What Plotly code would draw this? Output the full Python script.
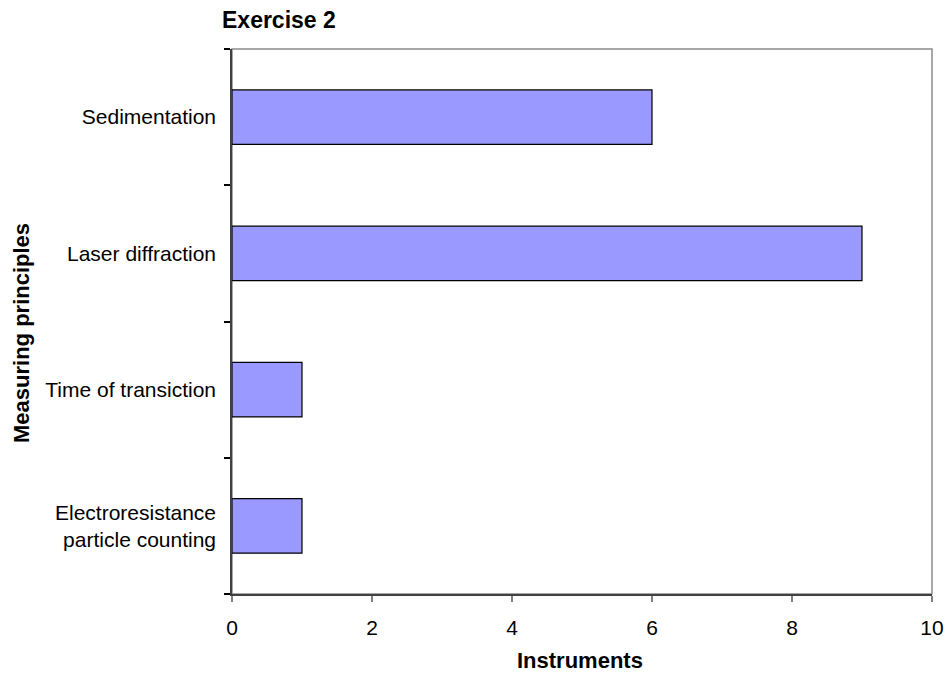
import plotly.graph_objects as go

# Measuring principles (bottom to top) and number of instruments using each
principles = [
    "Electroresistance<br>particle counting",
    "Time of transiction",
    "Laser diffraction",
    "Sedimentation",
]
instruments = [1, 1, 9, 6]

x_ticks = [0, 2, 4, 6, 8, 10]

FONT = "Liberation Sans, Arial, sans-serif"

fig = go.Figure(
    go.Bar(
        x=instruments,
        y=principles,
        orientation="h",
        marker=dict(color="#9999FF", line=dict(color="#000000", width=1.2)),
        hoverinfo="x+y",
    )
)

fig.update_layout(
    width=946,
    height=673,
    margin=dict(l=232, r=14, t=49, b=79, autoexpand=False),
    paper_bgcolor="white",
    plot_bgcolor="white",
    bargap=0.6,
    showlegend=False,
    font=dict(family=FONT, size=21, color="#000000"),
    title=dict(
        text="<b>Exercise 2</b>",
        font=dict(family=FONT, size=23, color="#000000"),
        x=222 / 946,
        xref="container",
        xanchor="left",
        y=1 - 20 / 673,
        yref="container",
        yanchor="middle",
    ),
    shapes=[
        dict(
            type="rect", xref="paper", yref="paper", x0=0, x1=1, y0=0, y1=1,
            line=dict(color="#8c8c8c", width=1.5), layer="below",
        )
    ],
    annotations=[
        dict(
            text="<b>Instruments</b>", xref="paper", yref="paper",
            x=0.497, y=-(660 - 594) / 545, showarrow=False,
            xanchor="center", yanchor="middle",
            font=dict(family=FONT, size=22, color="#000000"),
        ),
        dict(
            text="<b>Measuring principles</b>", xref="paper", yref="paper",
            x=(21 - 232) / 700, y=(594 - 333) / 545, showarrow=False,
            textangle=-90, xanchor="center", yanchor="middle",
            font=dict(family=FONT, size=22, color="#000000"),
        ),
    ],
)

fig.update_xaxes(
    range=[0, 10],
    tickvals=x_ticks,
    ticktext=[str(v) for v in x_ticks],
    ticks="outside",
    ticklen=6,
    tickcolor="#808080",
    tickwidth=1.5,
    ticklabelstandoff=8,
    showline=True,
    linecolor="#404040",
    linewidth=1.5,
    showgrid=False,
    zeroline=False,
    automargin=False,
    tickfont=dict(family=FONT, size=21, color="#000000"),
    fixedrange=True,
)

fig.update_yaxes(
    categoryorder="array",
    categoryarray=principles,
    range=[-0.5, 3.5],
    ticks="outside",
    tickson="boundaries",
    ticklen=6,
    tickcolor="#000000",
    tickwidth=1.5,
    ticklabelstandoff=10,
    showline=True,
    linecolor="#404040",
    linewidth=1.5,
    showgrid=False,
    zeroline=False,
    automargin=False,
    tickfont=dict(family=FONT, size=21, color="#000000"),
    fixedrange=True,
)

fig.write_html("out.html")
